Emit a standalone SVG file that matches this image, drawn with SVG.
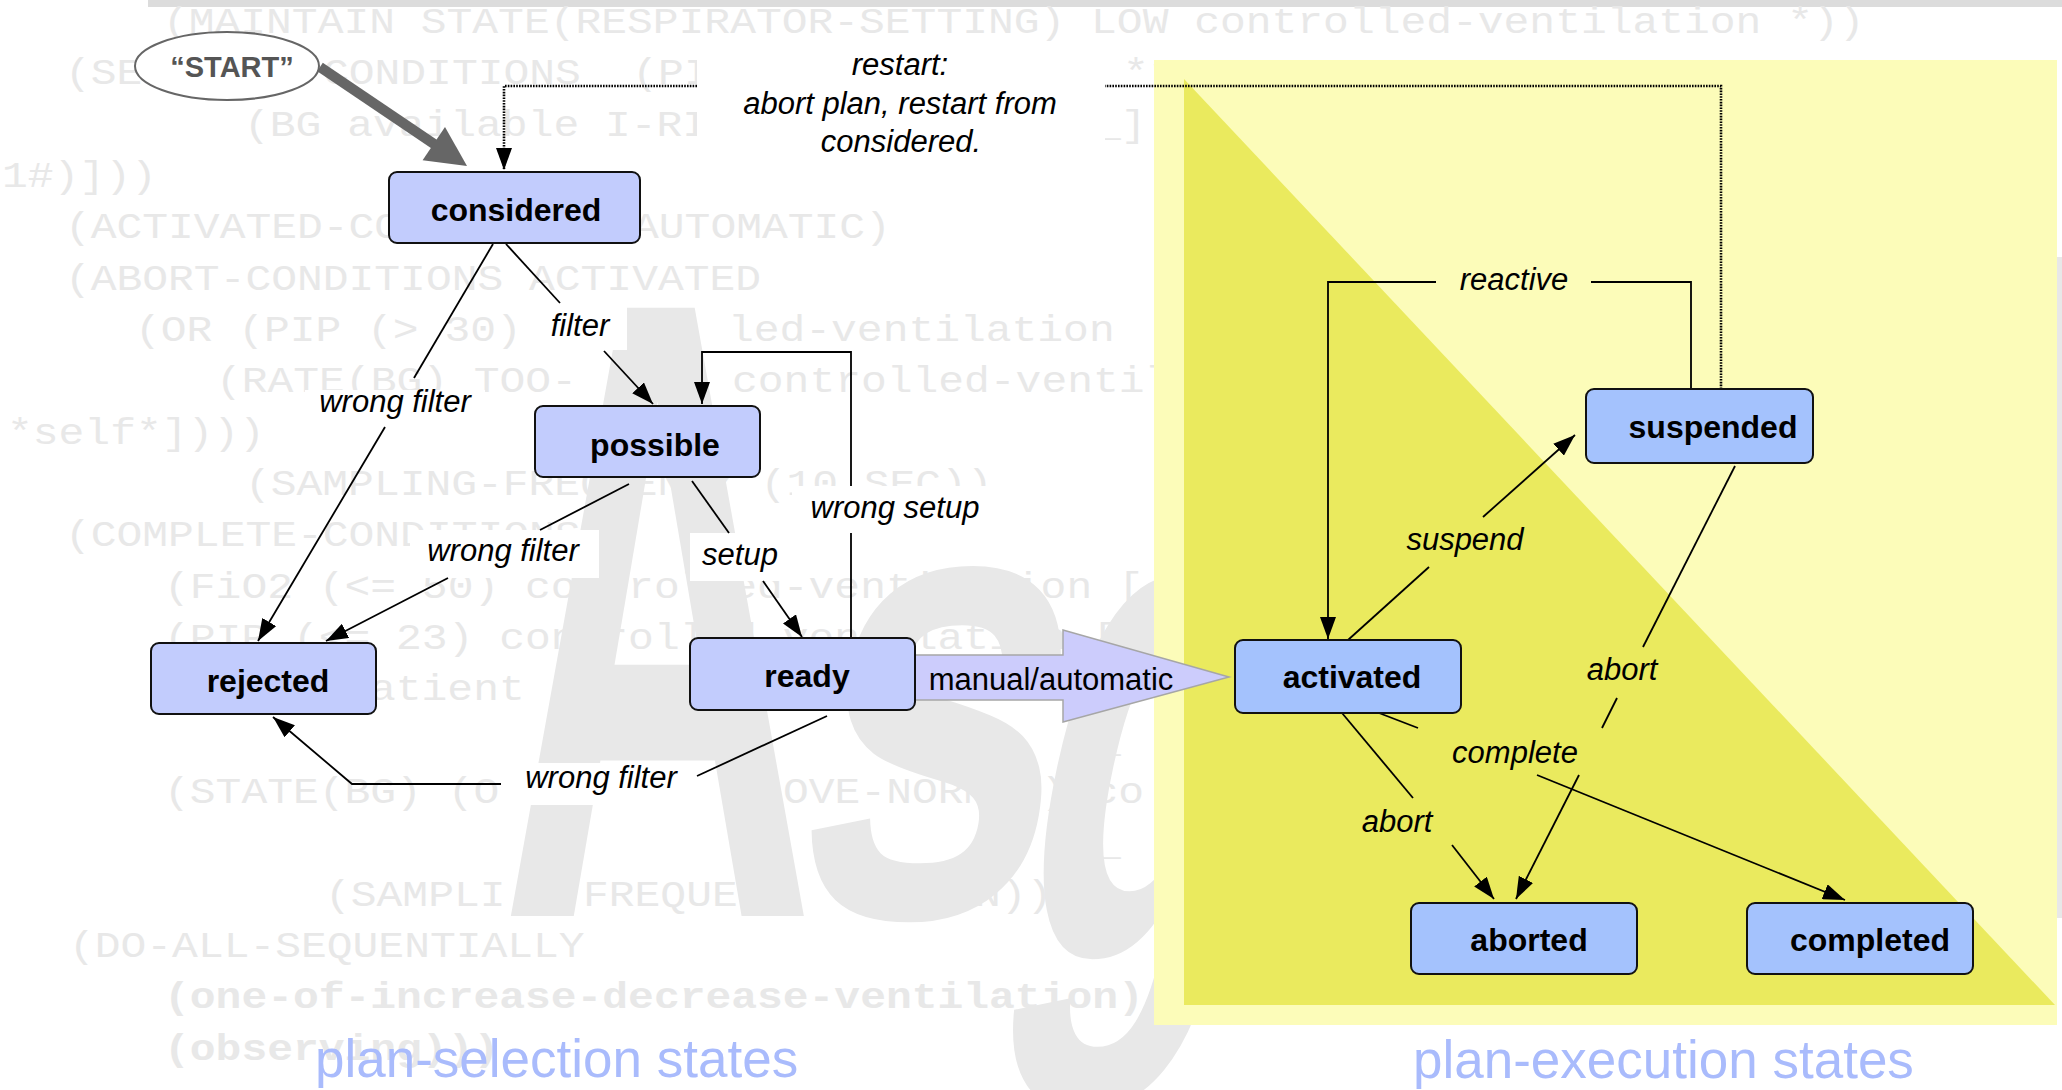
<svg xmlns="http://www.w3.org/2000/svg" width="2062" height="1090" viewBox="0 0 2062 1090">
  <style>
    .bg { font-family: "Liberation Mono", "Courier New", monospace; font-size: 36px; fill: #e8e8e8; white-space: pre; }
    .bgb { font-weight: bold; }
    .logo { font-family: "Liberation Sans", Arial, sans-serif; font-weight: bold; fill: #e8e8e8; }
    .box { stroke: #111; stroke-width: 2; }
    .sel { fill: #c2ccfd; }
    .exe { fill: #a4c2fd; }
    .nl { font-family: "Liberation Sans", Arial, sans-serif; font-weight: bold; font-size: 32px; text-anchor: middle; fill: #000; }
    .el { font-family: "Liberation Sans", Arial, sans-serif; font-style: italic; font-size: 31px; text-anchor: middle; fill: #000; }
    .conn { fill: none; stroke: #000; stroke-width: 1.8; }
    .dot { stroke-dasharray: 1.6 1.2; stroke-width: 2.6; }
    .cover { fill: #fff; }
    .title { font-family: "Liberation Sans", Arial, sans-serif; font-size: 53px; fill: #a9bbfc; }
  </style>
  <defs>
    <marker id="ah" viewBox="0 0 22 16" refX="22" refY="8" markerWidth="22" markerHeight="16" markerUnits="userSpaceOnUse" orient="auto">
      <path d="M0,0 L22,8 L0,16 z" fill="#000"/>
    </marker>
  </defs>

  <rect width="2062" height="1090" fill="#fff"/>

  <!-- slide backdrop: header bar, logo letters, plan source listing -->
  <g id="backdrop">
    <rect x="148" y="0" width="1914" height="7" fill="#dcdcdc"/>
    <rect x="2057" y="257" width="5" height="661" fill="#e8e8e8"/>
    <text class="logo" transform="translate(500,916) scale(0.494,1)" font-size="884">A</text>
    <text class="logo" transform="translate(780,916) skewX(-10) scale(0.72,1)" font-size="650">s</text>
    <text class="logo" transform="translate(1000,960) skewX(-12) scale(0.55,1)" font-size="714">g</text>

    <g transform="scale(1.194,1)">
      <text class="bg" x="136.5" y="33">(MAINTAIN STATE(RESPIRATOR-SETTING) LOW controlled-ventilation *))</text>
      <text class="bg" x="54.4" y="84">(SE</text>
      <text class="bg" x="270.5" y="84">CONDITIONS  (PI</text>
      <text class="bg" x="940.5" y="84">*r</text>
      <text class="bg" x="204.4" y="136">(BG available I-RI</text>
      <text class="bg" x="917.1" y="136">_]</text>
      <text class="bg" x="1.7" y="187">1#)]))</text>
      <text class="bg" x="54.4" y="238">(ACTIVATED-CO</text>
      <text class="bg" x="530.2" y="238">AUTOMATIC)</text>
      <text class="bg" x="54.4" y="290">(ABORT-CONDITIONS ACTIVATED</text>
      <text class="bg" x="113.1" y="341">(OR (PIP (&gt; 30)</text>
      <text class="bg" x="609.7" y="341">led-ventilation</text>
      <text class="bg" x="180.9" y="392">(RATE(BG) TOO-</text>
      <text class="bg" x="613.1" y="392">controlled-ventil</text>
      <text class="bg" x="5.9" y="444">*self*])))</text>
      <text class="bg" x="205.2" y="495">(SAMPLING-FREQUENCY (10 SEC))</text>
      <text class="bg" x="54.4" y="546">(COMPLETE-CONDITIONS</text>
      <text class="bg" x="137.4" y="598">(FiO2 (&lt;= 50) controlled-ventilation [</text>
      <text class="bg" x="137.4" y="649">(PIP (&lt;= 23) controlled-ventilation [</text>
      <text class="bg" x="309.9" y="700">atient</text>
      <text class="bg" x="505" y="700">NOT</text>
      <text class="bg" x="917.1" y="752">_</text>
      <text class="bg" x="137.4" y="803">(STATE(BG) (O</text>
      <text class="bg" x="655.8" y="803">OVE-NORMAL) co</text>
      <text class="bg" x="917.1" y="855">_</text>
      <text class="bg" x="272.2" y="906">(SAMPLI</text>
      <text class="bg" x="488.3" y="906">FREQUE</text>
      <text class="bg" x="816.6" y="906">N))</text>
      <text class="bg" x="57.8" y="957">(DO-ALL-SEQUENTIALLY</text>
      <text class="bg bgb" x="137.4" y="1008">(one-of-increase-decrease-ventilation)</text>
      <text class="bg bgb" x="137.4" y="1060">(observing)))</text>
    </g>
  </g>

  <!-- plan-execution area -->
  <g id="execution-area">
    <rect x="1154" y="60" width="903" height="965" fill="#fcfcb9"/>
    <polygon points="1184,79 1184,1005 2055,1005" fill="#eaea5e"/>
  </g>

  <!-- white backgrounds of the transition labels -->
  <g id="label-backs">
    <rect class="cover" x="697" y="44" width="408" height="124"/>
    <rect class="cover" x="537" y="304" width="90" height="46"/>
    <rect class="cover" x="305" y="390" width="180" height="37"/>
    <rect class="cover" x="792" y="486" width="204" height="47"/>
    <rect class="cover" x="410" y="530" width="189" height="48"/>
    <rect class="cover" x="690" y="533" width="100" height="48"/>
    <rect class="cover" x="501" y="763" width="196" height="42"/>
  </g>

  <!-- transitions -->
  <g id="connectors">
    <path class="conn" d="M493,244 L414,378"/>
    <path class="conn" d="M385,427 L258,641" marker-end="url(#ah)"/>
    <path class="conn" d="M506,244 L560,303"/>
    <path class="conn" d="M604,351 L653,404" marker-end="url(#ah)"/>
    <path class="conn" d="M692,481 L729,533"/>
    <path class="conn" d="M763,581 L802,637" marker-end="url(#ah)"/>
    <path class="conn" d="M629,484 L540,530"/>
    <path class="conn" d="M448,578 L326,641" marker-end="url(#ah)"/>
    <path class="conn" d="M851,638 L851,533"/>
    <path class="conn" d="M851,486 L851,352 L702,352 L702,404" marker-end="url(#ah)"/>
    <path class="conn" d="M827,716 L697,776"/>
    <path class="conn" d="M501,784 L352,784 L273,717" marker-end="url(#ah)"/>
    <path class="conn dot" d="M1721,389 L1721,86 L1105,86"/>
    <path class="conn dot" d="M697,86 L504,86 L504,170" marker-end="url(#ah)"/>
    <path class="conn" d="M1691,389 L1691,282 L1591,282"/>
    <path class="conn" d="M1436,282 L1328,282 L1328,639" marker-end="url(#ah)"/>
    <path class="conn" d="M1348,640 L1429,567"/>
    <path class="conn" d="M1483,517 L1575,435" marker-end="url(#ah)"/>
    <path class="conn" d="M1735,466 L1643,647"/>
    <path class="conn" d="M1617,698 L1602,728"/>
    <path class="conn" d="M1579,775 L1516,899" marker-end="url(#ah)"/>
    <path class="conn" d="M1342,713 L1413,798"/>
    <path class="conn" d="M1452,845 L1494,899" marker-end="url(#ah)"/>
    <path class="conn" d="M1379,713 L1418,728"/>
    <path class="conn" d="M1537,775 L1845,900" marker-end="url(#ah)"/>

    <!-- start arrow -->
    <line x1="320" y1="67" x2="437" y2="146" stroke="#666" stroke-width="10"/>
    <polygon points="467,166 422.6,160.3 445,127.1" fill="#666"/>

    <!-- manual/automatic block arrow -->
    <polygon points="915,655 1063,655 1063,630 1229,677 1063,722 1063,700 915,700" fill="#ccccfc" stroke="#a6a6a6" stroke-width="1.5"/>
  </g>

  <!-- states -->
  <g id="start">
    <ellipse cx="227" cy="66" rx="92" ry="34" fill="#fff" stroke="#666" stroke-width="2"/>
    <text x="232" y="77" font-family="Liberation Sans, Arial, sans-serif" font-weight="bold" font-size="29" text-anchor="middle" fill="#555">“START”</text>
  </g>
  <g id="considered">
    <rect class="box sel" x="389" y="172" width="251" height="71" rx="8"/>
    <text class="nl" x="516" y="221">considered</text>
  </g>
  <g id="possible">
    <rect class="box sel" x="535" y="406" width="225" height="71" rx="8"/>
    <text class="nl" x="655" y="456">possible</text>
  </g>
  <g id="ready">
    <rect class="box sel" x="690" y="638" width="225" height="72" rx="8"/>
    <text class="nl" x="807" y="687">ready</text>
  </g>
  <g id="rejected">
    <rect class="box sel" x="151" y="643" width="225" height="71" rx="8"/>
    <text class="nl" x="268" y="692">rejected</text>
  </g>
  <g id="activated">
    <rect class="box exe" x="1235" y="640" width="226" height="73" rx="8"/>
    <text class="nl" x="1352" y="688">activated</text>
  </g>
  <g id="suspended">
    <rect class="box exe" x="1586" y="389" width="227" height="74" rx="8"/>
    <text class="nl" x="1713" y="438">suspended</text>
  </g>
  <g id="aborted">
    <rect class="box exe" x="1411" y="903" width="226" height="71" rx="8"/>
    <text class="nl" x="1529" y="951">aborted</text>
  </g>
  <g id="completed">
    <rect class="box exe" x="1747" y="903" width="226" height="71" rx="8"/>
    <text class="nl" x="1870" y="951">completed</text>
  </g>

  <!-- transition labels -->
  <g id="labels">
    <text class="el" x="900" y="75">restart:</text>
    <text class="el" x="900" y="114">abort plan, restart from</text>
    <text class="el" x="901" y="152">considered.</text>
    <text class="el" x="580" y="336">filter</text>
    <text class="el" x="395" y="412">wrong filter</text>
    <text class="el" x="895" y="518">wrong setup</text>
    <text class="el" x="503" y="561">wrong filter</text>
    <text class="el" x="740" y="565">setup</text>
    <text class="el" x="601" y="788">wrong filter</text>
    <text x="1051" y="690" font-family="Liberation Sans, Arial, sans-serif" font-size="31" text-anchor="middle" fill="#000">manual/automatic</text>
    <text class="el" x="1514" y="290">reactive</text>
    <text class="el" x="1465" y="550">suspend</text>
    <text class="el" x="1622" y="680">abort</text>
    <text class="el" x="1515" y="763">complete</text>
    <text class="el" x="1397" y="832">abort</text>
  </g>

  <g id="titles">
    <text class="title" x="315" y="1077">plan-selection states</text>
    <text class="title" x="1413" y="1078">plan-execution states</text>
  </g>
</svg>
